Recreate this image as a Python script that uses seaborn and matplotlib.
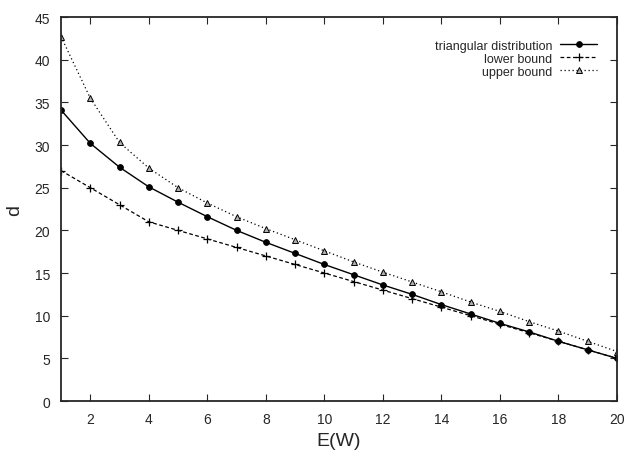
import matplotlib
matplotlib.use("Agg")
import matplotlib.pyplot as plt
import seaborn as sns
import pandas as pd

x = list(range(1, 21))
triangular = [34.1, 30.2, 27.4, 25.1, 23.3, 21.6, 20.0, 18.6, 17.3, 16.0,
              14.8, 13.6, 12.5, 11.3, 10.2, 9.1, 8.1, 7.0, 6.0, 5.0]
lower = [27, 25, 23, 21, 20, 19, 18, 17, 16, 15,
         14, 13, 12, 11, 10, 9, 8, 7, 6, 5]
upper = [42.7, 35.5, 30.3, 27.3, 25.0, 23.2, 21.6, 20.2, 18.9, 17.6,
         16.3, 15.1, 13.95, 12.8, 11.6, 10.5, 9.3, 8.2, 7.0, 5.8]
series_names = ["triangular distribution", "lower bound", "upper bound"]

sns.set_style("ticks")
plt.rcParams['font.family'] = ['Liberation Sans', 'DejaVu Sans']

df = pd.DataFrame({
    "E(W)": x * 3,
    "d": triangular + lower + upper,
    "series": [series_names[0]] * 20 + [series_names[1]] * 20 + [series_names[2]] * 20,
})

fig = plt.figure(figsize=(6.25, 4.56), dpi=100)
ax = fig.add_axes([0.0976, 0.1184, 0.8894, 0.8421])

styles = {
    series_names[0]: dict(linestyle="-", marker="o", markersize=4.2, markerfacecolor="black",
                          markeredgecolor="black", markeredgewidth=0.6, linewidth=1.0),
    series_names[1]: dict(linestyle=(0, (3, 2)), marker="+", markersize=5.5, markeredgewidth=0.9,
                          markeredgecolor="black", markerfacecolor="black", linewidth=0.9),
    series_names[2]: dict(linestyle=(0, (1, 2.2)), marker="^", markersize=4.5, markerfacecolor="#b0b0b0",
                          markeredgecolor="black", markeredgewidth=0.7, linewidth=0.9),
}
for name in series_names:
    sub = df[df["series"] == name]
    sns.lineplot(data=sub, x="E(W)", y="d", ax=ax, color="black", label=name,
                 **styles[name])

ax.set_xlim(1, 20)
ax.set_ylim(0, 45)
ax.set_xticks(range(2, 21, 2))
ax.set_yticks(range(0, 46, 5))
ax.tick_params(direction="in", top=True, right=True, labelsize=10, length=5, width=0.8, pad=8)
for s in ax.spines.values():
    s.set_linewidth(1.3)
    s.set_visible(True)
ax.set_xlabel("E(W)", fontsize=14, labelpad=4)
ax.set_ylabel("d", fontsize=14, labelpad=8)

leg = ax.legend(loc="upper right", frameon=False, markerfirst=False, fontsize=9,
                handlelength=3.0, labelspacing=0.08, handletextpad=0.6,
                bbox_to_anchor=(0.985, 0.97))
fig.savefig("out.png", dpi=100)
